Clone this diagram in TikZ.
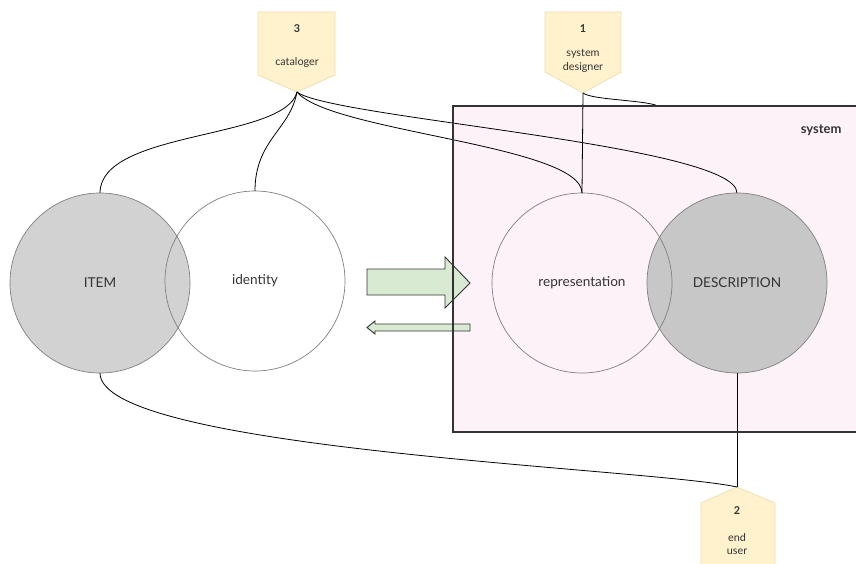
\documentclass[tikz,border=0pt]{standalone}
\usepackage{fontspec}
\setmainfont{Lato}
\definecolor{rolefill}{HTML}{FFF2CC}
\definecolor{roleline}{HTML}{EEDDAE}
\definecolor{sysfill}{HTML}{FDF2F8}
\definecolor{heavyfill}{HTML}{D2D2D2}
\definecolor{flowfill}{HTML}{D9EAD3}
\definecolor{ink}{HTML}{333333}
\begin{document}
\begin{tikzpicture}[x=1pt,y=-1pt,
    role/.style={fill=rolefill,draw=roleline,line width=0.7pt},
    tag/.style={text=ink,font=\fontsize{10.8}{13.5}\selectfont,align=center},
    ring/.style={circle,draw=black!50,line width=0.7pt,minimum size=180pt,inner sep=0pt,outer sep=0pt,text=ink,font=\fontsize{13.6}{16}\selectfont},
    link/.style={line width=0.8pt},
    flow/.style={fill=flowfill,draw=ink,line width=0.9pt}]
    \useasboundingbox (0,0) rectangle (856,564);
    \clip (0,0) rectangle (856,564);
    % system box
    \fill[sysfill] (453,106) rectangle (862,432);
    \node[anchor=east,text=ink,font=\bfseries\fontsize{13}{15}\selectfont] (sys) at (845,130) {system};
    \coordinate (systop) at (658,106);
    % circles
    \node[ring,fill=heavyfill] (item) at (100,283) {ITEM};
    \node[ring,fill=heavyfill!95!black] (desc) at (737,283) {DESCRIPTION};
    \node[ring] (ident) at (255,281) {identity};
    \node[ring] (repr) at (582,283) {representation};
    % roles
    \draw[role] (258,12) -- (335,12) -- (335,75) -- (297,92) -- (258,75) -- cycle;
    \node[tag] (catno) at (297,29) {\textbf{3}};
    \node[tag] (catname) at (297,63) {cataloger};
    \coordinate (cat) at (297,92);
    \draw[role] (545,12) -- (621,12) -- (621,72) -- (583,93) -- (545,72) -- cycle;
    \node[tag] (desno) at (583,29) {\textbf{1}};
    \node[tag] (desname) at (583,61) {system\\designer};
    \coordinate (des) at (583,93);
    \draw[role] (737,487) -- (775,503) -- (775,570) -- (701,570) -- (701,503) -- cycle;
    \node[tag] (usrno) at (737,511) {\textbf{2}};
    \node[tag] (usrname) at (737,544) {end\\user};
    \coordinate (usr) at (737,487);
    % connectors
    \draw[link] (cat) .. controls (285,140) and (100,130) .. (item.north);
    \draw[link] (cat) .. controls (290,130) and (255,140) .. (ident.north);
    \draw[link] (cat) .. controls (330,132) and (582,145) .. (repr.north);
    \draw[link] (cat) .. controls (330,118) and (737,145) .. (desc.north);
    \draw[link] (des) -- (repr.north);
    \draw[link] (des) .. controls (592,100) and (645,100) .. (systop);
    \draw[link] (desc.south) -- (usr);
    \draw[link] (item.south) .. controls (100,450) and (650,468) .. (usr);
    % transfer arrows
    \draw[flow] (367,269) -- (445,269) -- (445,257) -- (470,283) -- (445,308) -- (445,295) -- (367,295) -- cycle;
    \draw[flow] (470,324) -- (375,324) -- (375,321) -- (367,327.5) -- (375,334) -- (375,331) -- (470,331) -- cycle;
    \draw[ink,line width=2.2pt] (453,106) rectangle (862,432);
\end{tikzpicture}
\end{document}
